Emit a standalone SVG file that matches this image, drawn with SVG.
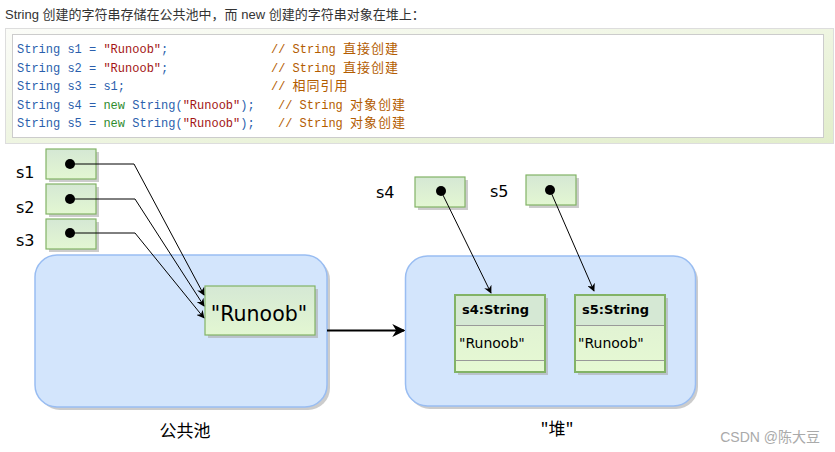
<svg xmlns="http://www.w3.org/2000/svg" width="835" height="452" viewBox="0 0 835 452">
<defs>
<linearGradient id="outerBg" x1="0" y1="0" x2="1" y2="1">
<stop offset="0" stop-color="#fbfcf8"/>
<stop offset="1" stop-color="#e2eecb"/>
</linearGradient>
<linearGradient id="boxG" x1="0" y1="0" x2="0" y2="1">
<stop offset="0" stop-color="#d5e8d4"/>
<stop offset="1" stop-color="#e3f7d2"/>
</linearGradient>
<linearGradient id="bodyG" x1="0" y1="0" x2="0" y2="1">
<stop offset="0" stop-color="#deefd3"/>
<stop offset="1" stop-color="#e6f9d3"/>
</linearGradient>
<marker id="arr" viewBox="0 0 10 10" refX="9" refY="5" markerWidth="8" markerHeight="8" orient="auto" markerUnits="userSpaceOnUse">
<path d="M0,0 L10,5 L0,10 L3,5 Z" fill="#000"/>
</marker>
<marker id="arrBig" viewBox="0 0 10 10" refX="9" refY="5" markerWidth="13" markerHeight="13" orient="auto" markerUnits="userSpaceOnUse">
<path d="M0,0 L10,5 L0,10 L3,5 Z" fill="#000"/>
</marker>
</defs>
<style>
.hdr{font-family:"Liberation Sans","Noto Sans CJK SC",sans-serif;font-size:13px;fill:#333}
.code{font-family:"Liberation Mono","Noto Sans CJK SC",monospace;font-size:12px;fill:#2b5fad;white-space:pre}
.str{fill:#a31515}
.kw{fill:#2e8b2e}
.cm{fill:#b35c00}
.cjk{font-size:13px;letter-spacing:1px}
.ref{fill:url(#boxG);stroke:#82b366;stroke-width:1.2}
.shadow{fill:#aaa;opacity:0.6}
.dot{fill:#000}
.lab{font-family:"DejaVu Sans",sans-serif;font-size:16px;fill:#000}
.area{fill:#d3e5fc;stroke:#99bdf2;stroke-width:1.5}
.conn{fill:none;stroke:#000;stroke-width:1}
.cls{fill:url(#bodyG);stroke:#82b366;stroke-width:2}
.div{stroke:#999;stroke-width:1}
.ctitle{font-family:"DejaVu Sans",sans-serif;font-size:13px;font-weight:bold;fill:#000}
.cval{font-family:"DejaVu Sans",sans-serif;font-size:14px;fill:#000}
.cap{font-family:"Noto Sans CJK SC","Liberation Sans",sans-serif;font-size:17px;fill:#000}
.wm{font-family:"Liberation Sans","Noto Sans CJK SC",sans-serif;font-size:14px;fill:#aaa}
</style>

<g id="header">
<text class="hdr" x="5" y="19">String 创建的字符串存储在公共池中，而 new 创建的字符串对象在堆上：</text>
</g>

<g id="codebox">
<rect x="5.5" y="28.5" width="828" height="115" fill="url(#outerBg)" stroke="#ddd"/>
<rect x="12.5" y="34.5" width="811" height="103" fill="#fff" stroke="#ccc"/>
<text class="code" x="17" y="53">String s1 = <tspan class="str">"Runoob"</tspan>;</text>
<text class="code cm" x="271" y="53">// String <tspan class="cjk">直接创建</tspan></text>
<text class="code" x="17" y="71.5">String s2 = <tspan class="str">"Runoob"</tspan>;</text>
<text class="code cm" x="271" y="71.5">// String <tspan class="cjk">直接创建</tspan></text>
<text class="code" x="17" y="90">String s3 = s1;</text>
<text class="code cm" x="271" y="90">// <tspan class="cjk">相同引用</tspan></text>
<text class="code" x="17" y="108.5">String s4 = <tspan class="kw">new</tspan> String(<tspan class="str">"Runoob"</tspan>);</text>
<text class="code cm" x="278" y="108.5">// String <tspan class="cjk">对象创建</tspan></text>
<text class="code" x="17" y="127">String s5 = <tspan class="kw">new</tspan> String(<tspan class="str">"Runoob"</tspan>);</text>
<text class="code cm" x="278" y="127">// String <tspan class="cjk">对象创建</tspan></text>
</g>

<g id="pool">
<rect x="38" y="258" width="292" height="152" rx="22" class="shadow"/>
<rect x="35" y="255" width="292" height="152" rx="22" class="area"/>
</g>

<g id="heap">
<rect x="408" y="259" width="290" height="150" rx="22" class="shadow"/>
<rect x="405.5" y="256" width="290" height="150" rx="22" class="area"/>
</g>

<g id="s1">
<rect x="49" y="152" width="50" height="30" class="shadow"/>
<rect x="46" y="149" width="50" height="30" class="ref"/>
<circle cx="70" cy="164" r="5" class="dot"/>
<text class="lab" x="16" y="178">s1</text>
</g>
<g id="s2">
<rect x="49" y="187" width="50" height="30" class="shadow"/>
<rect x="46" y="184" width="50" height="30" class="ref"/>
<circle cx="70" cy="199" r="5" class="dot"/>
<text class="lab" x="16" y="213">s2</text>
</g>
<g id="s3">
<rect x="49" y="222" width="50" height="30" class="shadow"/>
<rect x="46" y="219" width="50" height="30" class="ref"/>
<circle cx="70" cy="233" r="5" class="dot"/>
<text class="lab" x="16" y="246">s3</text>
</g>

<g id="runoob-pool">
<rect x="208" y="289" width="110" height="49" class="shadow"/>
<rect x="205" y="286" width="110" height="49" class="ref"/>
<text x="259" y="321" text-anchor="middle" font-family="DejaVu Sans, sans-serif" font-size="20.5" fill="#000">"Runoob"</text>
</g>

<g id="s4">
<rect x="418" y="180" width="50" height="30" class="shadow"/>
<rect x="415" y="177" width="50" height="30" class="ref"/>
<circle cx="441" cy="191" r="5" class="dot"/>
<text class="lab" x="376" y="198">s4</text>
</g>
<g id="s5">
<rect x="529" y="178" width="50" height="30" class="shadow"/>
<rect x="526" y="175" width="50" height="30" class="ref"/>
<circle cx="550" cy="190" r="5" class="dot"/>
<text class="lab" x="490" y="197">s5</text>
</g>

<g id="s4obj">
<rect x="458" y="298" width="90" height="77" class="shadow"/>
<rect x="455" y="295" width="90" height="77" class="cls"/>
<rect x="456" y="296" width="88" height="29" fill="#d5e8d4"/>
<line x1="456" y1="325.5" x2="544" y2="325.5" class="div"/>
<line x1="456" y1="360.5" x2="544" y2="360.5" class="div"/>
<text class="ctitle" x="462" y="314">s4:String</text>
<text class="cval" x="459" y="348">"Runoob"</text>
</g>
<g id="s5obj">
<rect x="578" y="298" width="90" height="77" class="shadow"/>
<rect x="575" y="295" width="90" height="77" class="cls"/>
<rect x="576" y="296" width="88" height="29" fill="#d5e8d4"/>
<line x1="576" y1="325.5" x2="664" y2="325.5" class="div"/>
<line x1="576" y1="360.5" x2="664" y2="360.5" class="div"/>
<text class="ctitle" x="582" y="314">s5:String</text>
<text class="cval" x="578" y="348">"Runoob"</text>
</g>

<g id="connectors">
<polyline class="conn" points="70,164 134,164 204,295" marker-end="url(#arr)"/>
<polyline class="conn" points="70,199 135,199 204,306" marker-end="url(#arr)"/>
<polyline class="conn" points="70,233 135,233 204,318" marker-end="url(#arr)"/>
<line class="conn" x1="441" y1="191" x2="491" y2="293" marker-end="url(#arr)"/>
<line class="conn" x1="550" y1="190" x2="594" y2="291" marker-end="url(#arr)"/>
<line x1="327" y1="330.5" x2="404" y2="330.5" stroke="#000" stroke-width="2" marker-end="url(#arrBig)"/>
</g>

<g id="captions">
<text class="cap" x="185" y="437" text-anchor="middle">公共池</text>
<text class="cap" x="557" y="435" text-anchor="middle">"堆"</text>
<text class="wm" x="820" y="442" text-anchor="end">CSDN @陈大豆</text>
</g>
</svg>
